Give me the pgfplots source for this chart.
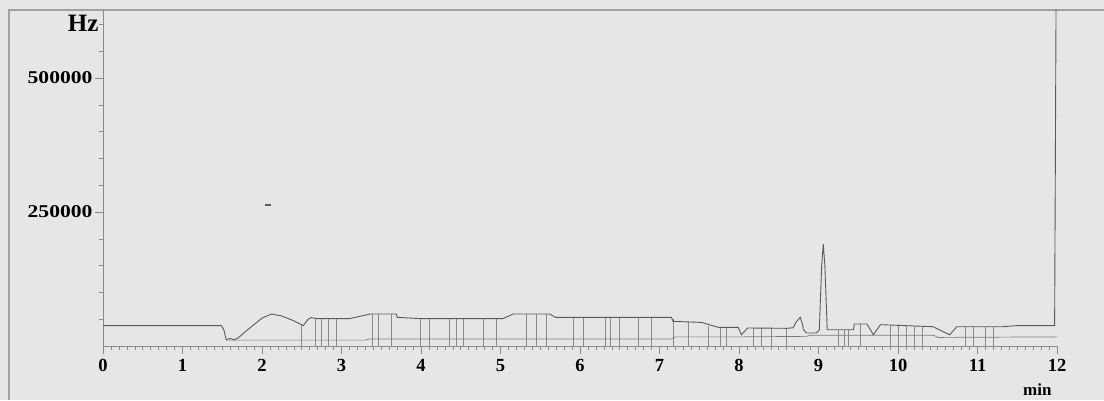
\documentclass[border=0pt]{standalone}
\usepackage{pgfplots}
\pgfplotsset{compat=1.18}
\usepackage{fontspec}
\setmainfont{Liberation Serif}
\newfontfamily\widefont[FakeStretch=1.2]{Liberation Serif}
\definecolor{bg}{HTML}{E6E6E6}
\definecolor{trace}{HTML}{5A5A5A}
\definecolor{dropc}{HTML}{8A8A8A}
\definecolor{framec}{HTML}{A0A0A0}
\begin{document}
\begin{tikzpicture}[x=1pt,y=1pt]
\fill[bg] (0,0) rectangle (1104,400);
\useasboundingbox (0,0) rectangle (1104,400);
\draw[framec, line width=2pt] (9,0) -- (9,390) -- (1104,390);
\begin{axis}[
  at={(103pt,54pt)}, anchor=south west,
  scale only axis, width=954pt, height=336pt,
  xmin=0, xmax=12, ymin=0, ymax=627000,
  clip=true,
  axis x line=bottom, axis y line=left,
  axis line style={-, color=dropc, line width=0.8pt},
  xtick={0,1,...,12},
  xticklabels={0,1,2,3,4,5,6,7,8,9,10,11,12},
  minor x tick num=9,
  ytick={250000,500000},
  yticklabels={250000,500000},
  minor ytick={50000,100000,150000,200000,300000,350000,400000,450000,550000,600000},
  tick align=outside,
  major tick length=8pt, minor tick length=4pt,
  tick style={color=dropc, line width=0.6pt},
  /pgf/number format/assume math mode=true,
  ticklabel style={font=\bfseries\fontsize{18.5}{20}\selectfont, text=black},
  xticklabel style={yshift=-2pt},
  yticklabel style={xshift=1pt, font=\widefont\bfseries\fontsize{18}{20}\selectfont},
  xlabel={min},
  xlabel style={at={(rel axis cs:1,0)}, anchor=north east, yshift=-34pt, xshift=-2pt, font=\bfseries\fontsize{17}{18}\selectfont},
  ylabel={Hz},
  ylabel style={rotate=-90, at={(rel axis cs:0,1)}, anchor=north east, yshift=-2pt, xshift=-1pt, font=\bfseries\fontsize{25}{26}\selectfont},
]
% drop lines between integrated peaks
\addplot[ycomb, dropc, line width=0.6pt, mark=none] coordinates {
(2.50,40000) (2.67,52000) (2.75,51000) (2.83,51000) (2.94,51000)
(3.39,59700) (3.46,59700) (3.63,59700) (3.99,51000) (4.11,51000)
(4.36,51000) (4.45,51000) (4.53,51000) (4.78,51000) (4.95,51000)
(5.33,59700) (5.45,59700) (5.58,59700) (5.92,53500) (6.04,53500)
(6.32,53500) (6.38,53500) (6.50,53500) (6.73,53500) (6.90,53500)
(7.17,50000) (7.36,45000) (7.61,38000) (7.76,34800) (7.84,34800)
(8.18,33600) (8.28,33600) (8.41,33600) (8.60,33600)
(9.25,30400) (9.32,30400) (9.38,30400) (9.52,41000)
(9.90,38000) (10.00,38000) (10.10,37500) (10.20,37000) (10.30,37000)
(10.85,36000) (10.95,36000) (11.10,36000) (11.20,36000)
};
% baseline trace
\addplot[trace!80, line width=0.7pt, mark=none] coordinates {
(1.55,11000) (3.30,11000) (3.35,13000) (7.15,13000) (7.20,17000)
(8.00,17000) (8.85,18000) (8.90,20000) (10.45,20000) (10.50,16000) (12.00,17000)
};
% detector signal
\addplot[trace, line width=0.9pt, mark=none] coordinates {
(0,37900) (1.49,37900) (1.52,30000) (1.55,12000) (1.60,14000) (1.65,11500)
(1.70,15000) (1.80,28000) (1.90,40000) (2.00,52000) (2.12,59700) (2.25,56000)
(2.40,47000) (2.52,38000) (2.58,50000) (2.62,53000) (2.70,51000) (3.10,51000)
(3.36,59700) (3.69,59700) (3.70,53500) (4.00,51000) (5.03,51000) (5.16,59700)
(5.62,59700) (5.69,53500) (7.15,53500) (7.17,46000) (7.53,44000) (7.74,34800)
(7.99,34800) (8.03,21000) (8.11,33600) (8.60,33000) (8.68,34000) (8.72,45000)
(8.77,53500) (8.80,40000) (8.81,30400) (8.85,24300) (8.97,24300) (9.01,30000)
(9.04,150000) (9.06,190000) (9.08,150000) (9.11,30400) (9.44,30400) (9.45,41000)
(9.61,41000) (9.69,21000) (9.78,39800) (10.44,36000) (10.65,21000) (10.74,36000)
(11.32,36000) (11.49,38000) (11.97,38000) (11.99,700000)
};
% stray mark
\addplot[only marks, mark=-, mark size=3pt, trace, line width=1.5pt] coordinates {(2.08,263000)};
\end{axis}
\end{tikzpicture}
\end{document}
